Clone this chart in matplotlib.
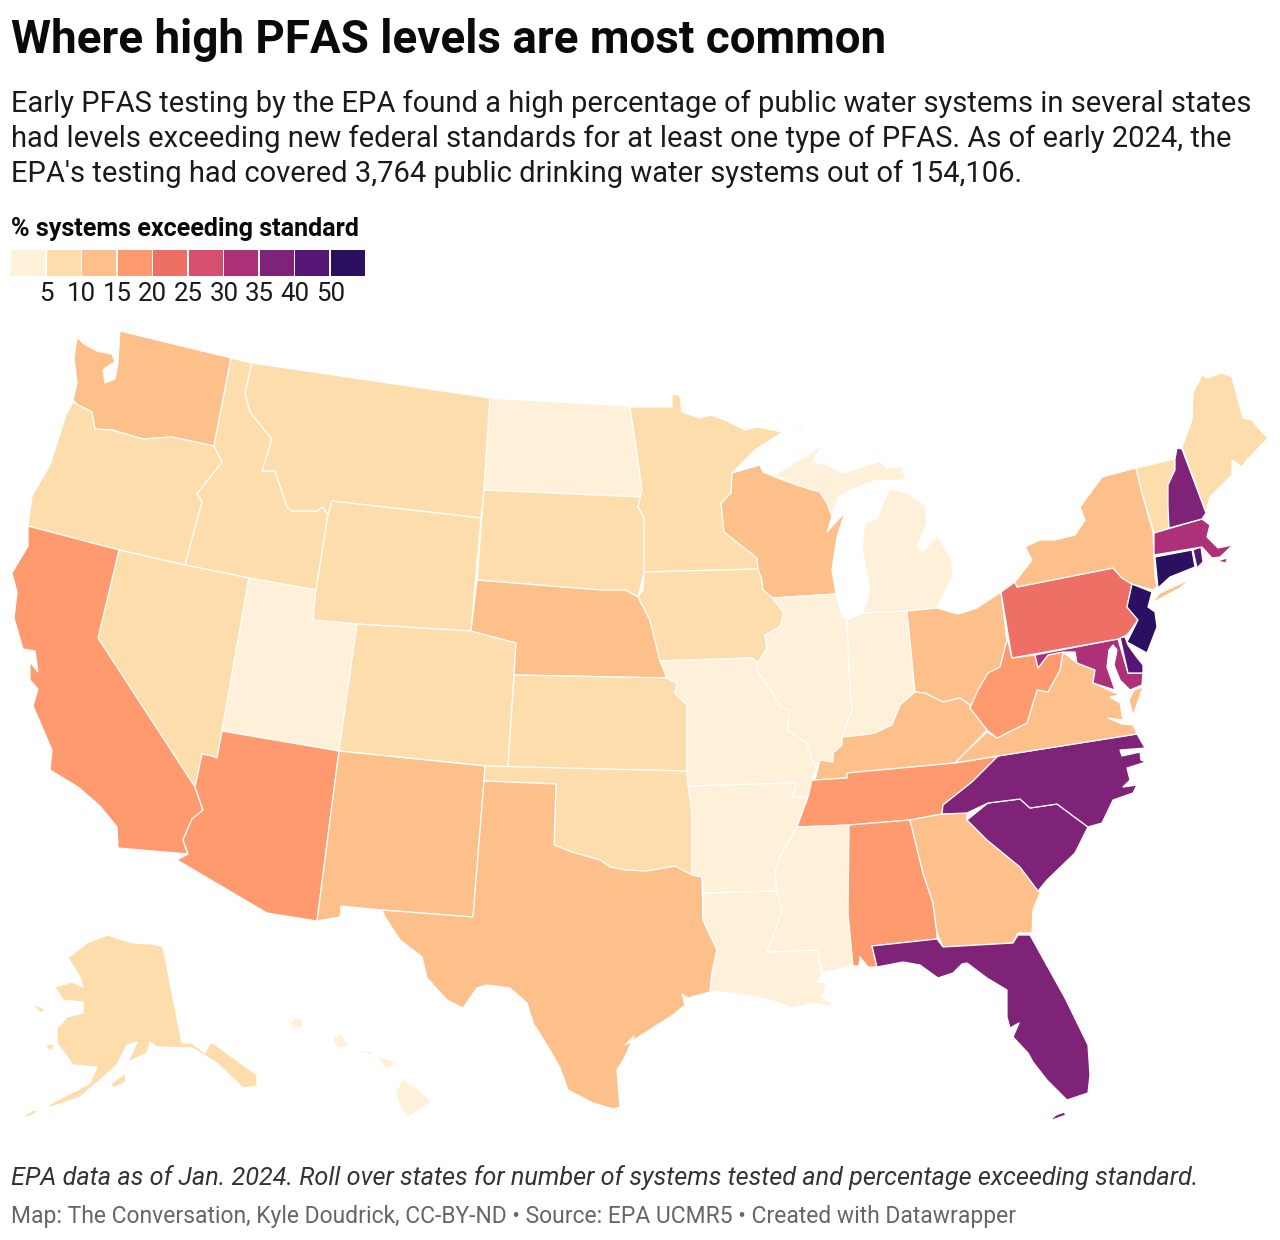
import matplotlib
matplotlib.use("Agg")
import matplotlib.pyplot as plt
from matplotlib.collections import PolyCollection
from matplotlib.colors import BoundaryNorm, ListedColormap

plt.rcParams['font.family'] = ['Roboto', 'DejaVu Sans']

TITLE = "Where high PFAS levels are most common"
SUBTITLE = ["Early PFAS testing by the EPA found a high percentage of public water systems in several states",
            "had levels exceeding new federal standards for at least one type of PFAS. As of early 2024, the",
            "EPA's testing had covered 3,764 public drinking water systems out of 154,106."]
LEGEND_TITLE = "% systems exceeding standard"
NOTE = "EPA data as of Jan. 2024. Roll over states for number of systems tested and percentage exceeding standard."
FOOTER = "Map: The Conversation, Kyle Doudrick, CC-BY-ND • Source: EPA UCMR5 • Created with Datawrapper"

bin_edges = [0, 5, 10, 15, 20, 25, 30, 35, 40, 50, 60]
bin_colors = ['#FFF0D9', '#FEDDAC', '#FEC08A', '#FE9A6E', '#EE6F65',
              '#D64F6F', '#AC3178', '#7F2378', '#551675', '#2B0F60']
tick_labels = ['5', '10', '15', '20', '25', '30', '35', '40', '50']

# Estimated share of systems over the standard, by state (read from the colour bins)
pct = {'WA': 12, 'OR': 7, 'CA': 17, 'NV': 7, 'ID': 7, 'MT': 7, 'WY': 7, 'UT': 3, 'AZ': 17, 'CO': 7,
       'NM': 12, 'ND': 3, 'SD': 7, 'NE': 12, 'KS': 7, 'OK': 7, 'TX': 12, 'MN': 7, 'IA': 7, 'MO': 3,
       'AR': 3, 'LA': 3, 'WI': 12, 'IL': 3, 'MS': 3, 'MI': 3, 'IN': 3, 'OH': 12, 'KY': 12, 'TN': 17,
       'AL': 17, 'GA': 12, 'FL': 37, 'SC': 37, 'NC': 37, 'VA': 12, 'WV': 17, 'PA': 22, 'NY': 12,
       'VT': 7, 'NH': 37, 'ME': 7, 'MA': 32, 'CT': 55, 'RI': 45, 'NJ': 55, 'DE': 45, 'MD': 32,
       'AK': 7, 'HI': 3}

# Outlines, in map units
WA = [(77,337),(84,344),(97,351),(112,354),(115,362),(108,366),(103,370),(105,383),(115,379),(118,362),(119,345),(120,331),(231,358),(214,446),(172,437),(143,439),(112,430),(95,429),(92,412),(78,405),(73,400),(77,383),(74,358)]
OR = [(73,402),(78,405),(92,412),(95,429),(112,430),(143,439),(172,437),(214,446),(222,462),(197,494),(202,502),(185,565),(119,550),(28,526),(32,496),(50,465),(66,415)]
ID = [(231,358),(252,363),(245,393),(250,412),(272,439),(262,471),(275,471),(287,507),(292,511),(317,511),(323,507),(328,515),(316,590),(249,578),(185,565),(202,502),(197,494),(222,462),(214,446)]
NV = [(119,550),(185,565),(249,578),(222,731),(217,758),(212,756),(202,754),(195,787),(98,638)]
CA = [(28,526),(119,550),(98,638),(195,787),(203,810),(192,819),(183,840),(188,854),(118,848),(117,827),(100,806),(78,787),(50,770),(52,750),(33,706),(38,689),(30,680),(30,662),(38,672),(35,651),(23,649),(14,618),(17,592),(12,573),(28,546)]
UT = [(249,578),(316,590),(313,620),(357,624),(339,751),(222,731)]
AZ = [(222,731),(339,751),(317,921),(267,913),(177,860),(188,854),(183,840),(192,819),(203,810),(195,787),(202,754),(212,756),(217,758)]
MT = [(252,363),(490,398),(484,490),(481,518),(332,501),(328,515),(323,507),(317,511),(292,511),(287,507),(275,471),(262,471),(272,439),(250,412),(245,393)]
WY = [(332,501),(481,518),(471,631),(357,624),(313,620),(316,590),(328,515)]
CO = [(357,624),(471,631),(516,643),(508,768),(339,751)]
NM = [(339,751),(485,766),(484,781),(473,917),(382,910),(341,906),(340,917),(317,921)]
ND = [(490,398),(630,406),(635,440),(642,490),(641,497),(484,490)]
SD = [(484,490),(641,497),(638,507),(644,517),(644,572),(641,585),(638,597),(625,590),(600,590),(477,580)]
NE = [(477,580),(600,590),(625,590),(638,597),(650,620),(660,660),(667,678),(514,675),(516,643),(471,631)]
KS = [(514,675),(667,678),(677,683),(675,693),(687,705),(687,771),(508,768)]
OK = [(485,766),(687,771),(692,813),(692,875),(675,866),(647,871),(625,870),(610,867),(600,860),(572,852),(554,845),(556,784),(484,781)]
TX = [(484,781),(556,784),(554,845),(572,852),(600,860),(610,867),(625,870),(647,871),(675,866),(692,875),(702,877),(703,920),(717,950),(712,973),(710,992),(688,998),(682,994),(685,1005),(673,1015),(637,1038),(625,1045),(634,1036),(625,1057),(617,1070),(620,1107),(613,1109),(593,1103),(568,1090),(560,1068),(550,1050),(533,1023),(527,1003),(510,988),(487,985),(477,988),(463,1008),(447,1000),(427,978),(422,957),(400,940),(385,917),(382,910),(473,917)]
MN = [(630,407),(672,407),(672,394),(680,395),(682,412),(700,418),(710,415),(725,420),(745,430),(757,427),(783,432),(755,450),(732,473),(731,493),(721,503),(724,532),(743,547),(757,558),(758,569),(644,572),(644,517),(638,507),(642,490),(635,440)]
IA = [(644,572),(758,569),(762,580),(763,590),(773,598),(784,613),(780,627),(765,635),(767,648),(758,663),(752,658),(660,661),(650,620),(638,597),(643,590)]
MO = [(660,661),(752,658),(758,663),(757,670),(777,700),(782,708),(790,710),(787,730),(807,743),(815,767),(820,760),(812,780),(808,797),(792,797),(797,783),(688,786),(687,771),(687,705),(675,693),(677,683),(667,678)]
AR = [(688,786),(797,783),(792,797),(808,797),(797,827),(780,857),(775,872),(777,891),(703,893),(702,877),(692,875),(692,813)]
LA = [(703,893),(777,891),(782,912),(767,952),(817,950),(822,975),(817,982),(827,983),(822,997),(837,1007),(813,1003),(793,1008),(770,1000),(757,997),(723,992),(710,992),(712,973),(717,950),(703,920)]
WI = [(732,473),(760,465),(763,472),(775,477),(797,485),(820,492),(827,503),(832,517),(827,532),(845,512),(837,537),(832,570),(836,594),(773,598),(763,590),(762,580),(758,569),(757,558),(743,547),(724,532),(721,503),(731,493)]
IL = [(773,598),(836,594),(843,617),(847,620),(850,690),(852,710),(842,737),(842,745),(833,753),(833,762),(820,760),(815,767),(807,743),(787,730),(790,710),(782,708),(777,700),(757,670),(758,663),(767,648),(765,635),(780,627),(784,613)]
IN = [(847,620),(863,613),(907,611),(915,692),(900,705),(892,725),(875,733),(863,735),(842,737),(852,710),(850,690)]
MI_LOWER = [(863,613),(870,590),(862,547),(865,523),(878,518),(883,503),(890,489),(907,493),(925,505),(927,523),(917,547),(923,552),(937,535),(952,560),(953,577),(937,608),(907,611)]
MI_UPPER = [(775,475),(810,453),(823,445),(812,462),(827,465),(843,473),(880,461),(887,468),(902,466),(905,478),(917,479),(890,481),(877,480),(850,490),(838,498),(832,515),(827,503),(820,492),(797,485)]
MI_ROYALE = [(792,434),(805,425),(801,431)]
OH = [(907,611),(937,608),(958,614),(977,608),(1001,592),(1006,633),(1007,640),(1000,667),(983,688),(977,697),(970,705),(960,698),(943,702),(925,693),(915,692)]
KY = [(915,692),(925,693),(943,702),(960,698),(970,705),(970,708),(987,730),(970,748),(955,763),(847,773),(847,778),(815,780),(820,760),(833,762),(833,753),(842,745),(842,737),(863,735),(875,733),(892,725),(900,705)]
TN = [(797,827),(808,797),(812,780),(815,780),(847,778),(847,773),(955,763),(998,756),(972,782),(943,805),(942,814),(910,820),(849,825)]
MS = [(797,827),(849,825),(848,913),(853,966),(823,973),(817,950),(767,952),(782,912),(777,891),(775,872),(780,857)]
AL = [(849,825),(910,820),(923,873),(933,903),(937,933),(937,939),(872,946),(877,967),(868,967),(860,957),(859,966),(853,966),(848,913)]
GA = [(910,820),(942,814),(967,813),(967,820),(987,840),(1020,867),(1040,893),(1033,910),(1032,933),(1018,933),(1013,943),(943,947),(937,933),(933,903),(923,873)]
FL = [(872,946),(937,939),(943,947),(1013,943),(1018,935),(1030,935),(1065,998),(1088,1045),(1090,1075),(1088,1093),(1067,1100),(1047,1080),(1033,1062),(1028,1053),(1013,1037),(1019,1023),(1010,1028),(1007,1017),(1007,990),(987,978),(967,963),(962,964),(953,973),(938,978),(920,965),(903,962),(877,967)]
FL_KEYS = [(1049,1121),(1056,1115),(1064,1112),(1066,1115),(1058,1118)]
SC = [(967,820),(988,803),(1020,799),(1030,808),(1057,804),(1088,827),(1075,853),(1047,880),(1038,891),(1020,867),(987,840)]
NC = [(1137,734),(1145,748),(1120,750),(1122,756),(1140,752),(1141,760),(1146,762),(1127,768),(1130,780),(1123,787),(1137,785),(1133,793),(1113,800),(1102,823),(1088,827),(1057,804),(1030,808),(1020,799),(988,803),(967,813),(942,814),(943,805),(972,782),(998,756)]
VA = [(955,763),(968,750),(987,732),(997,738),(1027,723),(1037,690),(1048,692),(1060,670),(1063,652),(1077,663),(1095,670),(1093,683),(1120,695),(1110,697),(1120,703),(1123,720),(1108,718),(1122,724),(1133,725),(1137,734),(998,756)]
VA_SHORE = [(1143,687),(1133,716),(1129,700),(1134,690)]
WV = [(1006,633),(1012,658),(1035,655),(1038,668),(1048,655),(1063,652),(1060,670),(1048,692),(1037,690),(1027,723),(997,738),(987,730),(970,708),(978,690),(988,673),(1000,667),(1007,640)]
MD = [(1035,655),(1118,639),(1128,673),(1143,673),(1142,685),(1130,690),(1120,680),(1114,665),(1117,650),(1113,645),(1109,650),(1107,667),(1115,690),(1093,683),(1095,670),(1077,663),(1075,652),(1063,652),(1048,655),(1038,668)]
DE = [(1120,637),(1125,637),(1128,645),(1135,655),(1143,665),(1143,673),(1128,673)]
PA = [(1001,592),(1015,582),(1017,587),(1113,568),(1122,578),(1132,584),(1127,607),(1138,620),(1127,635),(1118,639),(1012,658)]
NJ = [(1132,584),(1152,592),(1148,607),(1155,612),(1157,627),(1147,653),(1127,642),(1138,620),(1127,607)]
NY = [(1015,582),(1032,560),(1025,547),(1040,540),(1055,540),(1075,535),(1085,520),(1080,507),(1102,477),(1136,468),(1142,493),(1153,532),(1154,555),(1155,577),(1157,587),(1153,590),(1132,584),(1122,578),(1113,568),(1017,587)]
NY_LI = [(1152,603),(1160,593),(1191,579),(1180,588)]
CT = [(1155,557),(1192,550),(1195,567),(1170,577),(1158,588)]
RI = [(1193,550),(1201,547),(1203,562),(1197,568)]
MA = [(1154,533),(1202,519),(1210,525),(1207,537),(1218,548),(1233,545),(1220,557),(1212,558),(1202,547),(1154,555)]
MA_ISLAND = [(1217,561),(1227,558),(1226,563)]
VT = [(1136,468),(1175,459),(1175,470),(1168,485),(1169,528),(1154,533),(1142,493)]
NH = [(1177,448),(1182,449),(1206,513),(1202,519),(1169,528),(1168,507),(1168,485),(1175,470),(1175,459)]
ME = [(1182,447),(1192,420),(1193,393),(1202,375),(1207,378),(1222,373),(1232,377),(1243,418),(1252,420),(1260,430),(1268,438),(1247,460),(1242,467),(1232,460),(1232,475),(1210,497),(1206,512)]
AK = [(163,947),(182,1043),(192,1043),(205,1053),(210,1043),(213,1043),(257,1075),(257,1086),(243,1088),(217,1063),(192,1048),(157,1047),(150,1042),(147,1053),(128,1062),(137,1042),(127,1045),(117,1065),(100,1080),(80,1097),(63,1103),(48,1108),(50,1104),(67,1095),(78,1090),(90,1083),(97,1067),(73,1065),(57,1043),(57,1028),(67,1017),(83,1013),(83,1002),(63,1000),(55,987),(72,982),(83,987),(80,977),(68,958),(87,943),(107,935),(133,943),(153,944)]
AK_ALEUTIAN = [(20,1118),(34,1110),(38,1112),(30,1116)]
AK_KODIAK = [(111,1084),(125,1073),(126,1082),(113,1088)]
AK_LAWRENCE = [(31,1004),(46,1009),(41,1013)]
AK_NUNIVAK = [(45,1045),(54,1044),(53,1050),(48,1049)]
HI_KAUAI = [(289,1023),(295,1018),(303,1019),(303,1027),(295,1029)]
HI_OAHU = [(332,1038),(342,1034),(349,1047),(338,1048)]
HI_MOLOKAI = [(359,1050),(372,1052),(371,1055),(362,1053)]
HI_MAUI = [(377,1056),(397,1062),(390,1068),(385,1068),(381,1062)]
HI_LANAI = [(367,1058),(373,1061),(371,1064)]
HI_BIG = [(402,1079),(420,1090),(431,1102),(408,1118),(400,1107),(396,1093)]

shapes = [('WA', WA), ('OR', OR), ('ID', ID), ('NV', NV), ('CA', CA), ('UT', UT), ('AZ', AZ), ('MT', MT),
          ('WY', WY), ('CO', CO), ('NM', NM), ('ND', ND), ('SD', SD), ('NE', NE), ('KS', KS), ('OK', OK),
          ('TX', TX), ('MN', MN), ('IA', IA), ('MO', MO), ('AR', AR), ('LA', LA), ('WI', WI), ('IL', IL),
          ('IN', IN), ('MI', MI_LOWER), ('MI', MI_UPPER), ('MI', MI_ROYALE), ('OH', OH), ('KY', KY),
          ('TN', TN), ('MS', MS), ('AL', AL), ('GA', GA), ('FL', FL), ('FL', FL_KEYS), ('SC', SC), ('NC', NC),
          ('VA', VA), ('VA', VA_SHORE), ('WV', WV), ('MD', MD), ('DE', DE), ('PA', PA), ('NJ', NJ), ('NY', NY),
          ('NY', NY_LI), ('CT', CT), ('RI', RI), ('MA', MA), ('MA', MA_ISLAND), ('VT', VT), ('NH', NH), ('ME', ME),
          ('AK', AK), ('AK', AK_ALEUTIAN), ('AK', AK_KODIAK), ('AK', AK_LAWRENCE), ('AK', AK_NUNIVAK),
          ('HI', HI_KAUAI), ('HI', HI_OAHU), ('HI', HI_MOLOKAI), ('HI', HI_MAUI), ('HI', HI_LANAI), ('HI', HI_BIG)]

fig = plt.figure(figsize=(12.8, 12.4), dpi=100, facecolor='white')
ax = fig.add_axes([0, 0, 1, 1])
ax.set_xlim(0, 1280)
ax.set_ylim(1240, 0)
ax.axis('off')

cmap = ListedColormap(bin_colors)
norm = BoundaryNorm(bin_edges, cmap.N)

states = PolyCollection([s for _, s in shapes], array=[pct[k] for k, _ in shapes], cmap=cmap, norm=norm,
                        edgecolors='white', linewidths=0.9, zorder=2)
ax.add_collection(states)

# Text
ax.text(11, 40, TITLE, fontsize=32.95, fontweight='bold', color='#0a0a0a', va='center', ha='left')
for y, line in zip([104, 139, 174], SUBTITLE):
    ax.text(11, y, line, fontsize=21.0, color='#1a1a1a', va='center', ha='left')
ax.text(11, 229, LEGEND_TITLE, fontsize=18.05, fontweight='bold', color='#0a0a0a', va='center', ha='left')

# Legend
for i, c in enumerate(bin_colors):
    ax.add_patch(plt.Rectangle((11 + i * 35.5, 250), 34, 26, facecolor=c, edgecolor='none', zorder=3))
for i, t in enumerate(tick_labels):
    ax.text(46 + i * 35.6, 294, t, fontsize=18.6, color='#1a1a1a', va='center', ha='center')

ax.text(11, 1178, NOTE, fontsize=18.2, style='italic', color='#333333', va='center', ha='left')
ax.text(11, 1217, FOOTER, fontsize=16.5, color='#666666', va='center', ha='left')

fig.savefig('out.png', dpi=100, facecolor='white')
